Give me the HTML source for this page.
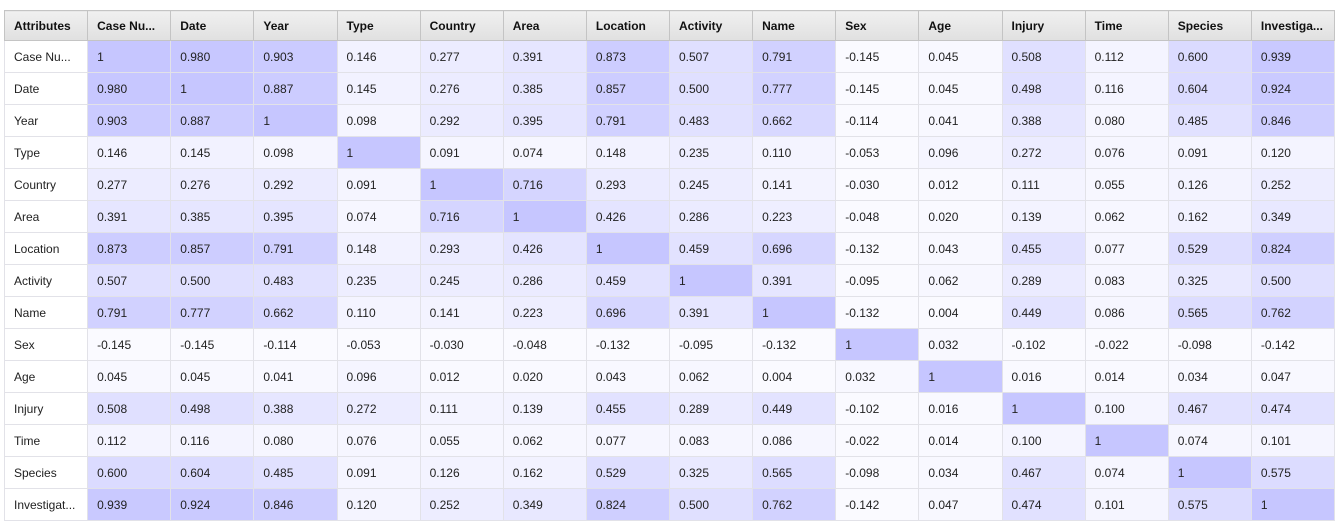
<!DOCTYPE html>
<html><head><meta charset="utf-8"><style>
body{margin:0;background:#fff;font-family:"Liberation Sans",Arial,sans-serif;}
table{position:absolute;left:4px;top:10px;border-collapse:collapse;table-layout:fixed;width:1331px;font-size:12px;color:#222;}
td,th{height:31px;padding:0 0 0 9px;text-align:left;border:1px solid #e2e2e8;white-space:nowrap;overflow:hidden;}
th{height:29px;background:linear-gradient(#f0f0f0,#e0e0e0);border:1px solid #c4c4c4;font-weight:bold;color:#111;}
td.rh{background:#fff;}
</style></head><body>
<table id="t"><thead><tr id="hr"></tr></thead><tbody id="tb"></tbody></table>
<script>
const attrs=["Case Nu...","Date","Year","Type","Country","Area","Location","Activity","Name","Sex","Age","Injury","Time","Species","Investigat..."];
const headLabels=["Attributes","Case Nu...","Date","Year","Type","Country","Area","Location","Activity","Name","Sex","Age","Injury","Time","Species","Investiga..."];
const m=[
[1,0.980,0.903,0.146,0.277,0.391,0.873,0.507,0.791,-0.145,0.045,0.508,0.112,0.600,0.939],
[0.980,1,0.887,0.145,0.276,0.385,0.857,0.500,0.777,-0.145,0.045,0.498,0.116,0.604,0.924],
[0.903,0.887,1,0.098,0.292,0.395,0.791,0.483,0.662,-0.114,0.041,0.388,0.080,0.485,0.846],
[0.146,0.145,0.098,1,0.091,0.074,0.148,0.235,0.110,-0.053,0.096,0.272,0.076,0.091,0.120],
[0.277,0.276,0.292,0.091,1,0.716,0.293,0.245,0.141,-0.030,0.012,0.111,0.055,0.126,0.252],
[0.391,0.385,0.395,0.074,0.716,1,0.426,0.286,0.223,-0.048,0.020,0.139,0.062,0.162,0.349],
[0.873,0.857,0.791,0.148,0.293,0.426,1,0.459,0.696,-0.132,0.043,0.455,0.077,0.529,0.824],
[0.507,0.500,0.483,0.235,0.245,0.286,0.459,1,0.391,-0.095,0.062,0.289,0.083,0.325,0.500],
[0.791,0.777,0.662,0.110,0.141,0.223,0.696,0.391,1,-0.132,0.004,0.449,0.086,0.565,0.762],
[-0.145,-0.145,-0.114,-0.053,-0.030,-0.048,-0.132,-0.095,-0.132,1,0.032,-0.102,-0.022,-0.098,-0.142],
[0.045,0.045,0.041,0.096,0.012,0.020,0.043,0.062,0.004,0.032,1,0.016,0.014,0.034,0.047],
[0.508,0.498,0.388,0.272,0.111,0.139,0.455,0.289,0.449,-0.102,0.016,1,0.100,0.467,0.474],
[0.112,0.116,0.080,0.076,0.055,0.062,0.077,0.083,0.086,-0.022,0.014,0.100,1,0.074,0.101],
[0.600,0.604,0.485,0.091,0.126,0.162,0.529,0.325,0.565,-0.098,0.034,0.467,0.074,1,0.575],
[0.939,0.924,0.846,0.120,0.252,0.349,0.824,0.500,0.762,-0.142,0.047,0.474,0.101,0.575,1]];
const hr=document.getElementById('hr');
headLabels.forEach((h,i)=>{const th=document.createElement('th');th.textContent=h;


hr.appendChild(th);});
const tb=document.getElementById('tb');
function col(v){const a=Math.max(0,v);const c=Math.round(250-52*a);return `rgb(${c},${c},255)`;}
m.forEach((row,r)=>{const tr=document.createElement('tr');
const rh=document.createElement('td');rh.className='rh';rh.textContent=attrs[r];


tr.appendChild(rh);
row.forEach((v,c)=>{const td=document.createElement('td');td.textContent=(v===1?'1':v.toFixed(3));td.style.background=col(v);


tr.appendChild(td);});
tb.appendChild(tr);});
</script>
</body></html>
